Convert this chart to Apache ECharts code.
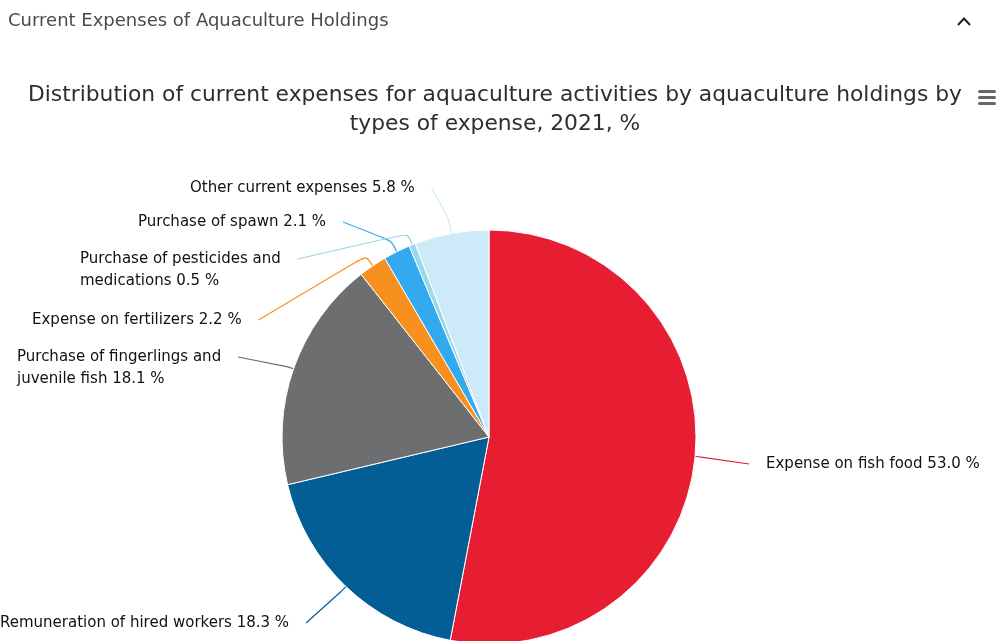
<!DOCTYPE html>
<html>
<head>
<meta charset="utf-8">
<title>Current Expenses of Aquaculture Holdings</title>
<script src="https://cdn.jsdelivr.net/npm/echarts@6/dist/echarts.min.js"></script>
<style>
  html, body { margin: 0; padding: 0; background: #ffffff; }
  #chart { width: 1001px; height: 641px; }
</style>
</head>
<body>
<div id="chart"></div>
<script>
// Expense types and their share of current expenses, 2021 (%)
const categories = [
  'Expense on fish food',
  'Remuneration of hired workers',
  'Purchase of fingerlings and\njuvenile fish',
  'Expense on fertilizers',
  'Purchase of spawn',
  'Purchase of pesticides and\nmedications',
  'Other current expenses'
];
const values = [53.0, 18.3, 18.1, 2.2, 2.1, 0.5, 5.8];
const colors = ['#e71d32', '#035e96', '#6d6e70', '#f8901f', '#33aaf0', '#9ad7e8', '#cdeaf8'];

// Pie geometry and label placement (left edge x, vertical middle y of each label block)
const CX = 489, CY = 437, R = 207;
const labelAnchors = [[766, 464], [0, 623], [17, 368], [32, 320], [138, 222], [80, 270], [190, 188]];
const bendLengths = [6, 6, 6, 12, 12, 12, 14];
const FONT = '"DejaVu Sans", Verdana, sans-serif';
const LABEL_FONT = 15, LABEL_LH = 22, LINE_GAP = 17;

const chart = echarts.init(document.getElementById('chart'), null, { renderer: 'canvas' });

const option = {
  animation: false,
  backgroundColor: '#ffffff',
  title: [
    {
      text: 'Current Expenses of Aquaculture Holdings',
      left: 8, top: 12, padding: 0,
      textStyle: { fontFamily: FONT, fontSize: 18, fontWeight: 'normal', color: '#4a4a4a' }
    },
    {
      text: 'Distribution of current expenses for aquaculture activities by aquaculture holdings by\ntypes of expense, 2021, %',
      left: 495, top: 81, padding: 0, textAlign: 'center',
      textStyle: { fontFamily: FONT, fontSize: 21.8, fontWeight: 'normal', color: '#2e2e2e', lineHeight: 29 }
    }
  ],
  graphic: [
    // collapse chevron
    { type: 'polyline', shape: { points: [[958, 25], [964, 18.5], [970, 25]] }, style: { stroke: '#222', lineWidth: 2, fill: null } },
    // menu icon
    { type: 'rect', shape: { x: 978, y: 90, width: 18, height: 3, r: 1.5 }, style: { fill: '#666' } },
    { type: 'rect', shape: { x: 978, y: 96, width: 18, height: 3, r: 1.5 }, style: { fill: '#666' } },
    { type: 'rect', shape: { x: 978, y: 102, width: 18, height: 3, r: 1.5 }, style: { fill: '#666' } }
  ],
  series: [{
    type: 'pie',
    center: [CX, CY],
    radius: R,
    startAngle: 90,
    clockwise: true,
    avoidLabelOverlap: false,
    itemStyle: { borderColor: '#ffffff', borderWidth: 1 },
    label: {
      show: true,
      fontFamily: FONT,
      fontSize: LABEL_FONT,
      lineHeight: LABEL_LH,
      color: '#111111',
      formatter: p => p.name + ' ' + p.value.toFixed(1) + ' %'
    },
    labelLine: { show: true, smooth: 0.25, lineStyle: { width: 1.2 } },
    labelLayout: function (p) {
      const i = p.dataIndex;
      const a = labelAnchors[i];
      const w = p.labelRect.width, h = p.labelRect.height;
      const e = p.labelLinePoints[0];
      const dx = e[0] - CX, dy = e[1] - CY;
      const len = Math.hypot(dx, dy) || 1;
      const k = bendLengths[i];
      const bend = [e[0] + dx / len * k, e[1] + dy / len * k];
      const onRight = a[0] > CX;
      const endX = onRight ? a[0] - LINE_GAP : a[0] + w + LINE_GAP;
      const endY = a[1] - h / 2 + LABEL_LH / 2;
      return {
        x: a[0], y: a[1], align: 'left', verticalAlign: 'middle',
        labelLinePoints: [e, bend, [endX, endY]]
      };
    },
    data: categories.map((name, i) => ({
      name: name,
      value: values[i],
      itemStyle: { color: colors[i] },
      labelLine: { lineStyle: { color: colors[i] } }
    }))
  }]
};

chart.setOption(option);
</script>
</body>
</html>
